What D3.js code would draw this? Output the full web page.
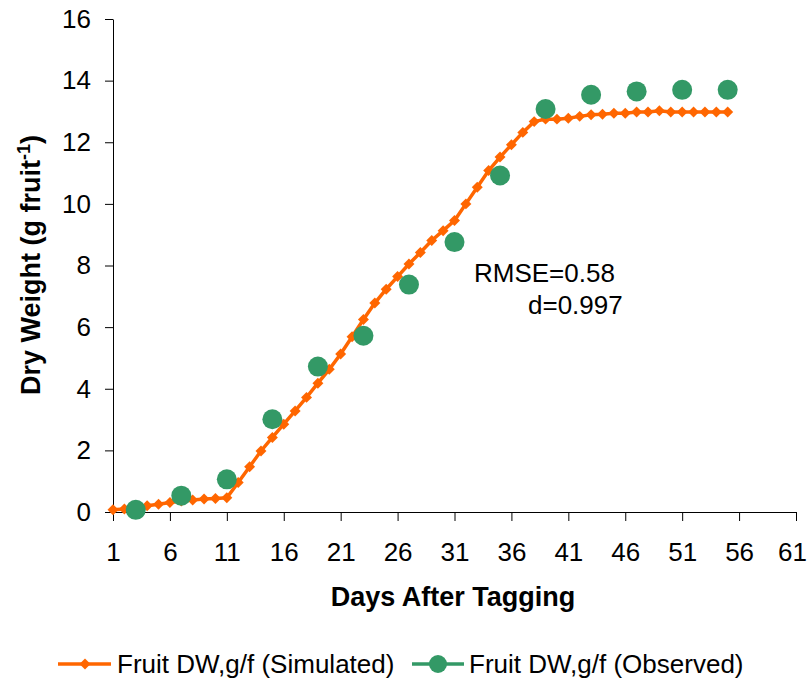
<!DOCTYPE html>
<html>
<head>
<meta charset="utf-8">
<script src="https://cdn.jsdelivr.net/npm/d3@7"></script>
<style>
  body { margin: 0; background: #fff; }
  svg { font-family: "Liberation Sans", Arial, sans-serif; }
</style>
</head>
<body>
<svg id="chart" width="809" height="688"></svg>
<script>
"use strict"

// simulated fruit dry weight, one value per day (day 1..55)
const simDays = d3.range(1, 56)
const simValues = [0.07, 0.1, 0.15, 0.2, 0.25, 0.31, 0.36, 0.39, 0.42, 0.44,
    0.46, 0.96, 1.47, 1.98, 2.42, 2.85, 3.28, 3.72, 4.18, 4.63,
    5.13, 5.69, 6.25, 6.78, 7.23, 7.64, 8.05, 8.42, 8.81, 9.13,
    9.46, 10.0, 10.54, 11.08, 11.52, 11.92, 12.32, 12.67, 12.75, 12.75,
    12.78, 12.84, 12.89, 12.91, 12.94, 12.94, 12.98, 12.98, 13.02, 12.98,
    12.98, 12.98, 12.98, 12.98, 12.98]

// observed samples
const obsDays = [3, 7, 11, 15, 19, 23, 27, 31, 35, 39, 43, 47, 51, 55]
const obsValues = [0.07, 0.53, 1.06, 3.01, 4.72, 5.72, 7.38, 8.76, 10.92, 13.08, 13.54, 13.65, 13.7, 13.7]

const xTicks = d3.range(1, 62, 5)
const yTicks = d3.range(0, 17, 2)
const legendLabels = ["Fruit DW,g/f (Simulated)", "Fruit DW,g/f (Observed)"]
const statLines = ["RMSE=0.58", "d=0.997"]

const orange = "#FF6600"
const green = "#339966"

const svg = d3.select("#chart")

const x = d3.scaleLinear().domain([1, 61]).range([113, 796])
const y = d3.scaleLinear().domain([0, 16]).range([512, 19])

// axes
const xAxis = d3.axisBottom(x).tickValues(xTicks).tickSize(9).tickPadding(22).tickSizeOuter(0)
const yAxis = d3.axisLeft(y).tickValues(yTicks).tickSize(8).tickPadding(14).tickSizeOuter(0)

svg.append("g")
    .attr("transform", "translate(0," + y(0) + ")")
    .call(xAxis)
    .call(g => g.selectAll("text").attr("font-size", "26px").attr("fill", "#000").attr("font-family", "inherit"))
    .call(g => g.selectAll("line, path").attr("stroke", "#000"))
    // last label sits on the window edge, nudge it in
    .call(g => g.selectAll(".tick").filter(d => d === 61).select("text").attr("dx", -4))

svg.append("g")
    .attr("transform", "translate(" + x(1) + ",0)")
    .call(yAxis)
    .call(g => g.selectAll("text").attr("font-size", "26px").attr("fill", "#000").attr("font-family", "inherit"))
    .call(g => g.selectAll("line, path").attr("stroke", "#000"))

// axis titles
svg.append("text")
    .attr("x", 453)
    .attr("y", 606)
    .attr("text-anchor", "middle")
    .attr("font-size", "27px")
    .attr("font-weight", "bold")
    .text("Days After Tagging")

const yTitle = svg.append("text")
    .attr("transform", "translate(40,265) rotate(-90)")
    .attr("text-anchor", "middle")
    .attr("font-size", "27px")
    .attr("font-weight", "bold")
yTitle.append("tspan").text("Dry Weight (g fruit")
yTitle.append("tspan").attr("font-size", "18px").attr("dy", "-10").text("-1")
yTitle.append("tspan").attr("dy", "10").text(")")

// simulated line + diamonds
const simData = simDays.map((d, i) => ({day: d, value: simValues[i]}))
const line = d3.line().x(d => x(d.day)).y(d => y(d.value))

svg.append("path")
    .datum(simData)
    .attr("d", line)
    .attr("fill", "none")
    .attr("stroke", orange)
    .attr("stroke-width", 3.5)

const diamond = d3.symbol().type(d3.symbolSquare).size(60)
svg.selectAll(".sim")
    .data(simData)
    .enter()
    .append("path")
    .attr("class", "sim")
    .attr("d", diamond)
    .attr("transform", d => "translate(" + x(d.day) + "," + y(d.value) + ") rotate(45)")
    .attr("fill", orange)

// observed dots
const obsData = obsDays.map((d, i) => ({day: d, value: obsValues[i]}))
svg.selectAll(".obs")
    .data(obsData)
    .enter()
    .append("circle")
    .attr("class", "obs")
    .attr("cx", d => x(d.day))
    .attr("cy", d => y(d.value))
    .attr("r", 10)
    .attr("fill", green)

// statistics note
svg.append("text").attr("x", 474).attr("y", 282).attr("font-size", "26px").text(statLines[0])
svg.append("text").attr("x", 528).attr("y", 314).attr("font-size", "26px").text(statLines[1])

// legend
const legendY = 664
const leg1 = svg.append("g")
leg1.append("line").attr("x1", 58).attr("x2", 111).attr("y1", legendY).attr("y2", legendY)
    .attr("stroke", orange).attr("stroke-width", 3.5)
leg1.append("path").attr("d", diamond)
    .attr("transform", "translate(85," + legendY + ") rotate(45)")
    .attr("fill", orange)
leg1.append("text").attr("x", 117).attr("y", legendY + 9).attr("font-size", "26px").text(legendLabels[0])

const leg2 = svg.append("g")
leg2.append("line").attr("x1", 412).attr("x2", 464).attr("y1", legendY).attr("y2", legendY)
    .attr("stroke", green).attr("stroke-width", 3.5)
leg2.append("circle").attr("cx", 438).attr("cy", legendY).attr("r", 9).attr("fill", green)
leg2.append("text").attr("x", 469).attr("y", legendY + 9).attr("font-size", "26px").text(legendLabels[1])
</script>
</body>
</html>
